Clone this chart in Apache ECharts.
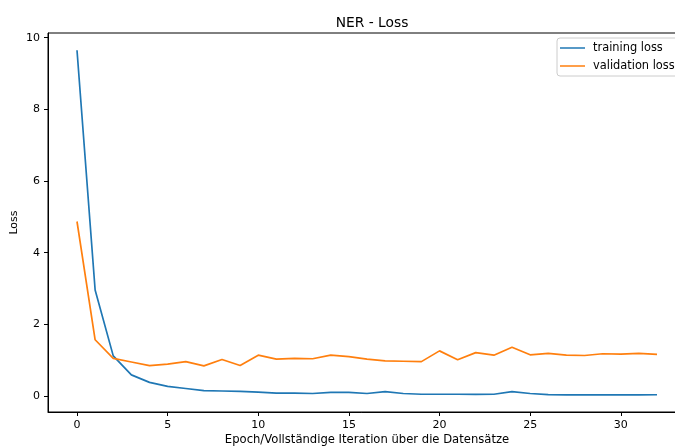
<!DOCTYPE html>
<html>
<head>
<meta charset="utf-8">
<script src="https://cdn.jsdelivr.net/npm/echarts@6/dist/echarts.min.js"></script>
<style>html,body{margin:0;padding:0;background:#fff;}#c{width:675px;height:447px;}</style>
</head>
<body>
<div id="c"></div>
<script>
var epochs = [0,1,2,3,4,5,6,7,8,9,10,11,12,13,14,15,16,17,18,19,20,21,22,23,24,25,26,27,28,29,30,31,32];
var trainingLoss = [9.65,2.96,1.12,0.59,0.38,0.27,0.21,0.15,0.14,0.13,0.11,0.08,0.08,0.07,0.10,0.10,0.07,0.12,0.07,0.05,0.05,0.05,0.045,0.05,0.12,0.07,0.04,0.03,0.03,0.03,0.035,0.03,0.035];
var validationLoss = [4.87,1.57,1.05,0.95,0.85,0.89,0.96,0.84,1.02,0.85,1.14,1.03,1.05,1.04,1.14,1.10,1.03,0.98,0.97,0.96,1.26,1.01,1.21,1.14,1.36,1.15,1.19,1.14,1.13,1.18,1.17,1.19,1.16];
var xTicks = [0,5,10,15,20,25,30];
var yTicks = [0,2,4,6,8,10];

var font = 'DejaVu Sans';
function pairs(ys){ return epochs.map(function(x,i){ return [x, ys[i]]; }); }

var chart = echarts.init(document.getElementById('c'), null, {renderer:'canvas'});
chart.setOption({
  animation: false,
  backgroundColor: '#ffffff',
  title: {
    text: 'NER - Loss',
    left: 367, top: 11, textAlign: 'center',
    textStyle: {fontFamily: font, fontSize: 13.8, fontWeight: 'normal', color: '#000'}
  },
  legend: {
    orient: 'vertical',
    left: 557, top: 38,
    padding: [3, 14, 3, 3],
    icon: 'rect',
    itemWidth: 25, itemHeight: 1.5, itemGap: 4,
    backgroundColor: 'rgba(255,255,255,0.8)',
    borderColor: '#cccccc', borderWidth: 1, borderRadius: 3,
    textStyle: {fontFamily: font, fontSize: 11.4, color: '#000', lineHeight: 14, padding: [0,0,0,3]},
    data: ['training loss', 'validation loss']
  },
  grid: {left: 48, top: 33, width: 638, height: 379, show: true, borderColor: '#000', borderWidth: 1, containLabel: false, outerBoundsMode: 'none'},
  xAxis: {
    type: 'value', min: -1.6, max: 33.6,
    name: 'Epoch/Vollständige Iteration über die Datensätze',
    nameLocation: 'middle', nameGap: 22, nameMoveOverlap: false,
    nameTextStyle: {fontFamily: font, fontSize: 11.6, color: '#000'},
    axisLine: {show: true, onZero: false, lineStyle: {color: '#000', width: 1}},
    axisTick: {show: true, length: 4, customValues: xTicks, lineStyle: {color: '#000'}},
    axisLabel: {customValues: xTicks, fontFamily: font, fontSize: 11, color: '#000', margin: 8},
    splitLine: {show: false}
  },
  yAxis: {
    type: 'value', min: -0.446, max: 10.13,
    name: 'Loss', nameLocation: 'middle', nameGap: 28, nameRotate: 90, nameMoveOverlap: false,
    nameTextStyle: {fontFamily: font, fontSize: 11, color: '#000'},
    axisLine: {show: true, onZero: false, lineStyle: {color: '#000', width: 1}},
    axisTick: {show: true, length: 4, customValues: yTicks, lineStyle: {color: '#000'}},
    axisLabel: {customValues: yTicks, fontFamily: font, fontSize: 11, color: '#000', margin: 8},
    splitLine: {show: false}
  },
  series: [
    {name: 'training loss', type: 'line', data: pairs(trainingLoss), symbol: 'none', color: '#1f77b4', lineStyle: {width: 1.7, color: '#1f77b4'}},
    {name: 'validation loss', type: 'line', data: pairs(validationLoss), symbol: 'none', color: '#ff7f0e', lineStyle: {width: 1.7, color: '#ff7f0e'}}
  ]
});
</script>
</body>
</html>
